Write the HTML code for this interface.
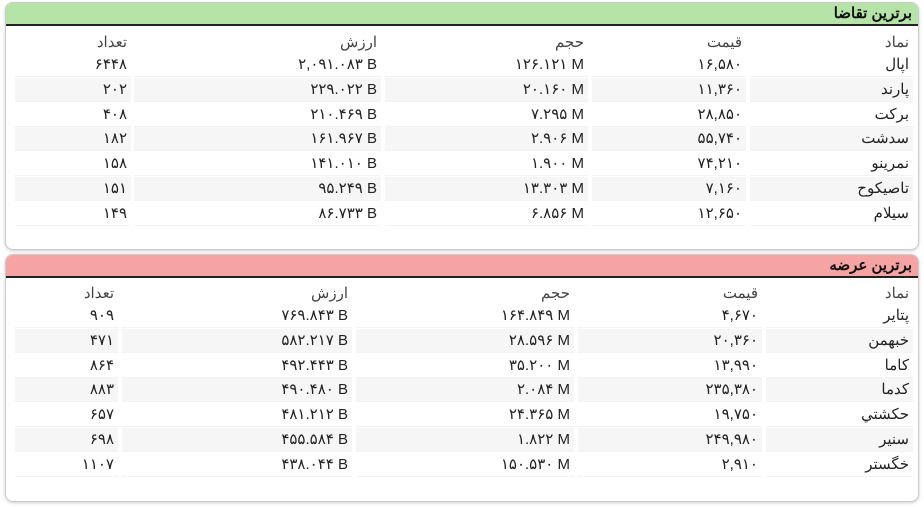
<!DOCTYPE html>
<html><head><meta charset="utf-8"><style>
body{margin:0;width:924px;height:507px;background:#fff;font-family:"Liberation Sans","Noto Sans CJK SC",sans-serif;position:relative;overflow:hidden}
.card{position:absolute;left:5px;width:912px;border:1px solid #ccc;border-radius:8px;background:#fff;box-shadow:0 1px 3px rgba(0,0,0,.2);overflow:hidden}
.hd{position:absolute;left:0;right:0;top:0;height:21px;border-bottom:2px solid #222;font-weight:bold;font-size:15px;direction:rtl;padding-right:6px;line-height:21px;color:#111}
.c{position:absolute;height:24px;line-height:24px;font-size:15px;text-align:right;direction:rtl;padding-right:4px;box-sizing:border-box;color:#222;border-bottom:1px solid #f3f3f3}
.c.g{background:#f6f6f6}
.c.h{color:#444;border:none}
.c span{direction:ltr;unicode-bidi:embed}
</style></head><body>
<div class="card" style="top:2px;height:246px"><div class="hd" style="background:#b6e3a8">برترین تقاضا</div></div>
<div class="card" style="top:254px;height:246px"><div class="hd" style="background:#f5a3a3">برترین عرضه</div></div>
<div id="t"></div>
<script>
function build(top,cols,rows,head){
 let h='';
 const all=[head].concat(rows);
 all.forEach((r,i)=>{
  const y=top+(i===0?-10:(i-1)*24.8+12)-12;
  r.forEach((v,j)=>{
   const [l,rr]=cols[j];
   const cls='c'+(i===0?' h':'')+(i>0&&i%2===0?' g':'');
   h+=`<div class="${cls}" style="left:${l}px;width:${rr-l}px;top:${y}px"><span>${v}</span></div>`;
  });
 });
 return h;
}
const head=['نماد','قیمت','حجم','ارزش','تعداد'];
const c1=[[750,913],[592,746],[385,588],[134,381],[15,131]];
const c2=[[766,913],[578,762],[356,574],[122,352],[15,118]];
const r1=[['اپال','۱۶,۵۸۰','۱۲۶.۱۲۱ M','۲,۰۹۱.۰۸۳ B','۶۴۴۸'],
['پارند','۱۱,۳۶۰','۲۰.۱۶۰ M','۲۲۹.۰۲۲ B','۲۰۲'],
['برکت','۲۸,۸۵۰','۷.۲۹۵ M','۲۱۰.۴۶۹ B','۴۰۸'],
['سدشت','۵۵,۷۴۰','۲.۹۰۶ M','۱۶۱.۹۶۷ B','۱۸۲'],
['نمرینو','۷۴,۲۱۰','۱.۹۰۰ M','۱۴۱.۰۱۰ B','۱۵۸'],
['تاصیکوح','۷,۱۶۰','۱۳.۳۰۳ M','۹۵.۲۴۹ B','۱۵۱'],
['سیلام','۱۲,۶۵۰','۶.۸۵۶ M','۸۶.۷۳۳ B','۱۴۹']];
const r2=[['پتایر','۴,۶۷۰','۱۶۴.۸۴۹ M','۷۶۹.۸۴۳ B','۹۰۹'],
['خبهمن','۲۰,۳۶۰','۲۸.۵۹۶ M','۵۸۲.۲۱۷ B','۴۷۱'],
['کاما','۱۳,۹۹۰','۳۵.۲۰۰ M','۴۹۲.۴۴۳ B','۸۶۴'],
['کدما','۲۳۵,۳۸۰','۲.۰۸۴ M','۴۹۰.۴۸۰ B','۸۸۳'],
['حکشتي','۱۹,۷۵۰','۲۴.۳۶۵ M','۴۸۱.۲۱۲ B','۶۵۷'],
['سنیر','۲۴۹,۹۸۰','۱.۸۲۲ M','۴۵۵.۵۸۴ B','۶۹۸'],
['خگستر','۲,۹۱۰','۱۵۰.۵۳۰ M','۴۳۸.۰۴۴ B','۱۱۰۷']];
document.getElementById('t').innerHTML=build(53,c1,r1,head)+build(304,c2,r2,head);
</script>
</body></html>
